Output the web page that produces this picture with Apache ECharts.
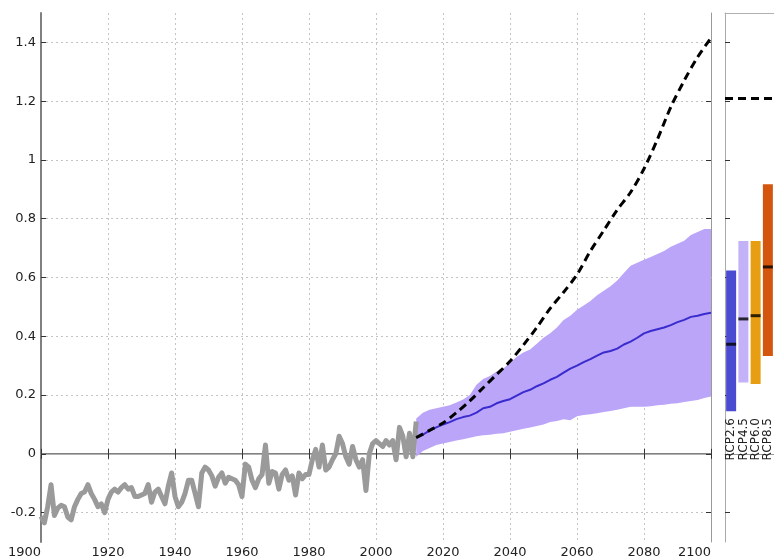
<!DOCTYPE html>
<html>
<head>
<meta charset="utf-8">
<script src="https://cdn.jsdelivr.net/npm/echarts@6/dist/echarts.min.js"></script>
<style>
  html, body { margin: 0; padding: 0; background: #fff; }
  #chart { width: 774px; height: 560px; }
</style>
</head>
<body>
<div id="chart"></div>
<script>
// Observed record, 1900-2012 (one value per year)
var obsStartYear = 1900;
var obsValues = [
  -0.213, -0.235, -0.18, -0.105, -0.21, -0.185, -0.175, -0.18, -0.215, -0.225,
  -0.18, -0.155, -0.135, -0.13, -0.105, -0.135, -0.155, -0.18, -0.17, -0.2,
  -0.155, -0.13, -0.12, -0.13, -0.115, -0.105, -0.12, -0.115, -0.145, -0.145,
  -0.14, -0.135, -0.105, -0.165, -0.13, -0.12, -0.145, -0.17, -0.11, -0.065,
  -0.145, -0.18, -0.165, -0.135, -0.09, -0.09, -0.135, -0.18, -0.065, -0.045,
  -0.055, -0.075, -0.11, -0.08, -0.065, -0.1, -0.08, -0.085, -0.09, -0.105,
  -0.145, -0.035, -0.045, -0.09, -0.115, -0.085, -0.07, 0.03, -0.1, -0.06,
  -0.065, -0.12, -0.07, -0.055, -0.09, -0.075, -0.14, -0.065, -0.085, -0.07,
  -0.07, -0.02, 0.015, -0.045, 0.03, -0.055, -0.045, -0.02, 0.0, 0.06,
  0.035, -0.01, -0.035, 0.025, -0.02, -0.045, -0.02, -0.125, 0.0, 0.035,
  0.045, 0.035, 0.025, 0.045, 0.03, 0.045, -0.02, 0.09, 0.06, -0.01,
  0.07, -0.01, 0.11
];

// Projection ensemble, 2012-2100 every 2 years
var projYears = [
  2012, 2014, 2016, 2018, 2020, 2022, 2024, 2026, 2028, 2030,
  2032, 2034, 2036, 2038, 2040, 2042, 2044, 2046, 2048, 2050,
  2052, 2054, 2056, 2058, 2060, 2062, 2064, 2066, 2068, 2070,
  2072, 2074, 2076, 2078, 2080, 2082, 2084, 2086, 2088, 2090,
  2092, 2094, 2096, 2098, 2100
];
var projLower = [
  -0.01, 0.01, 0.02, 0.03, 0.035, 0.04, 0.045, 0.05, 0.055, 0.06,
  0.063, 0.065, 0.068, 0.07, 0.075, 0.08, 0.085, 0.09, 0.095, 0.1,
  0.108, 0.112, 0.118, 0.114, 0.128, 0.132, 0.135, 0.138, 0.142, 0.146,
  0.15, 0.155, 0.16, 0.16, 0.16, 0.162, 0.165, 0.167, 0.17, 0.172,
  0.176, 0.18, 0.183, 0.19, 0.195
];
var projUpper = [
  0.12, 0.14, 0.15, 0.155, 0.16, 0.165, 0.175, 0.185, 0.2, 0.235,
  0.255, 0.265, 0.28, 0.29, 0.31, 0.33, 0.345, 0.355, 0.375, 0.395,
  0.41, 0.43, 0.455, 0.47, 0.49, 0.505, 0.52, 0.54, 0.555, 0.57,
  0.59, 0.615, 0.64, 0.65, 0.66, 0.67, 0.68, 0.69, 0.705, 0.715,
  0.725, 0.745, 0.755, 0.765, 0.765
];
var projMedian = [
  0.055, 0.065, 0.08, 0.09, 0.1, 0.108, 0.118, 0.125, 0.13, 0.14,
  0.155, 0.16, 0.172, 0.18, 0.186, 0.198, 0.21, 0.218, 0.23, 0.24,
  0.252, 0.262, 0.276, 0.29, 0.3, 0.312, 0.322, 0.334, 0.345, 0.35,
  0.358, 0.372, 0.382, 0.395, 0.41, 0.418, 0.424, 0.43, 0.438, 0.448,
  0.456, 0.466, 0.47, 0.476, 0.48
];

// Upper-end scenario curve, every 4 years
var highYears = [
  2012, 2016, 2020, 2024, 2028, 2032, 2036, 2040, 2044, 2048, 2052, 2056,
  2060, 2064, 2068, 2072, 2076, 2080, 2084, 2088, 2092, 2096, 2100
];
var highValues = [
  0.055, 0.08, 0.105, 0.14, 0.18, 0.225, 0.27, 0.315, 0.37, 0.43, 0.495, 0.55,
  0.61, 0.69, 0.76, 0.83, 0.89, 0.97, 1.07, 1.18, 1.27, 1.35, 1.415
];
var highLevel2100 = 1.21;

// Scenario ranges at 2100
var rcpNames = ['RCP2.6', 'RCP4.5', 'RCP6.0', 'RCP8.5'];
var rcpLow = [0.145, 0.243, 0.238, 0.333];
var rcpHigh = [0.624, 0.724, 0.724, 0.917];
var rcpMid = [0.373, 0.459, 0.47, 0.636];
var rcpColors = ['#4b4bd2', '#c3b2f8', '#e89e12', '#d4560e'];

// Axis ticks
var xTickInterval = 20;
var yTickValues = [-0.2, 0, 0.2, 0.4, 0.6, 0.8, 1, 1.2, 1.4];
var yMin = -0.3, yMax = 1.5;

var obsData = obsValues.map(function (v, i) { return [obsStartYear + i, v]; });
var medianData = projYears.map(function (y, i) { return [y, projMedian[i]]; });
var highData = highYears.map(function (y, i) { return [y, highValues[i]]; });

var FONT = 'DejaVu Sans';
var gridLine = { show: true, lineStyle: { color: '#c4c4c4', type: [2, 3], width: 1 } };
var innerTick = function (vals) {
  var t = { show: true, inside: true, length: 5, lineStyle: { color: '#333', width: 1 } };
  if (vals) t.customValues = vals;
  return t;
};

// Ensemble spread drawn as one polygon: upper edge forward, lower edge back
function renderSpread(params, api) {
  var pts = [];
  for (var i = 0; i < projYears.length; i++) {
    pts.push(api.coord([projYears[i], projUpper[i]]));
  }
  for (var j = projYears.length - 1; j >= 0; j--) {
    pts.push(api.coord([projYears[j], projLower[j]]));
  }
  return {
    type: 'polygon',
    shape: { points: pts },
    style: { fill: '#bba5f8', stroke: null }
  };
}

var chart = echarts.init(document.getElementById('chart'), null, { renderer: 'canvas' });
chart.setOption({
  animation: false,
  backgroundColor: '#ffffff',
  grid: [
    { left: 41, top: 13, width: 670, height: 529 },
    { left: 725, top: 13, right: 0, height: 529 }
  ],
  xAxis: [
    {
      type: 'value', gridIndex: 0, min: 1900, max: 2100, interval: xTickInterval,
      position: 'bottom',
      axisLine: { show: true, lineStyle: { color: '#808080', width: 2 } },
      axisTick: innerTick(),
      axisLabel: {
        color: '#222', fontFamily: FONT, fontSize: 13, margin: 4,
        alignMinLabel: 'right', alignMaxLabel: 'right',
        formatter: function (v) { return String(v); }
      },
      splitLine: gridLine
    },
    {
      type: 'value', gridIndex: 0, min: 1900, max: 2100, interval: xTickInterval,
      position: 'top',
      axisLine: { show: true, lineStyle: { color: '#b0b0b0', width: 1 } },
      axisTick: innerTick(),
      axisLabel: { show: false },
      splitLine: { show: false }
    },
    {
      type: 'category', gridIndex: 1, data: rcpNames,
      position: 'bottom',
      axisLine: { show: true, lineStyle: { color: '#999', width: 1 } },
      axisTick: { show: false },
      axisLabel: {
        rotate: 90, margin: -124, interval: 0,
        color: '#222', fontFamily: FONT, fontSize: 12
      },
      splitLine: { show: false }
    },
    {
      type: 'category', gridIndex: 1, data: rcpNames,
      position: 'top',
      axisLine: { show: true, lineStyle: { color: '#b0b0b0', width: 1 } },
      axisTick: { show: false },
      axisLabel: { show: false }
    }
  ],
  yAxis: [
    {
      type: 'value', gridIndex: 0, min: yMin, max: yMax, position: 'left',
      axisLine: { show: true, lineStyle: { color: '#808080', width: 2 } },
      axisTick: innerTick(yTickValues),
      axisLabel: { customValues: yTickValues, color: '#222', fontFamily: FONT, fontSize: 13, margin: 5 },
      splitLine: gridLine
    },
    {
      type: 'value', gridIndex: 0, min: yMin, max: yMax, position: 'right',
      axisLine: { show: true, lineStyle: { color: '#999', width: 1 } },
      axisTick: innerTick(yTickValues),
      axisLabel: { show: false },
      splitLine: { show: false }
    },
    {
      type: 'value', gridIndex: 1, min: yMin, max: yMax, position: 'left',
      axisLine: { show: true, lineStyle: { color: '#aaa', width: 1 } },
      axisTick: innerTick(yTickValues),
      axisLabel: { show: false },
      splitLine: { show: false }
    }
  ],
  series: [
    {
      name: 'spread', type: 'custom', xAxisIndex: 0, yAxisIndex: 0,
      data: [[projYears[0], projLower[0]]],
      renderItem: renderSpread, silent: true, z: 2
    },
    {
      name: 'observed', type: 'line', xAxisIndex: 0, yAxisIndex: 0,
      data: obsData, symbol: 'none',
      lineStyle: { color: '#9a9a9a', width: 5, join: 'round' }, z: 3
    },
    {
      name: 'median', type: 'line', xAxisIndex: 0, yAxisIndex: 0,
      data: medianData, symbol: 'none',
      lineStyle: { color: '#3a2bcf', width: 2 }, z: 4
    },
    {
      name: 'high', type: 'line', xAxisIndex: 0, yAxisIndex: 0,
      data: highData, symbol: 'none', smooth: 0.3,
      lineStyle: { color: '#000', width: 3, type: [8, 5] }, z: 5
    },
    {
      name: 'rcpBase', type: 'bar', xAxisIndex: 2, yAxisIndex: 2,
      data: rcpLow, stack: 'rcp', barWidth: 10,
      itemStyle: { color: 'transparent' }, silent: true
    },
    {
      name: 'rcpRange', type: 'bar', xAxisIndex: 2, yAxisIndex: 2,
      data: rcpHigh.map(function (h, i) {
        return { value: +(h - rcpLow[i]).toFixed(4), itemStyle: { color: rcpColors[i] } };
      }),
      stack: 'rcp', barWidth: 10,
      markLine: {
        silent: true, symbol: 'none', label: { show: false },
        lineStyle: { color: '#000', width: 3, type: [8, 5] },
        data: [{ yAxis: highLevel2100 }]
      }
    },
    {
      name: 'rcpMid', type: 'scatter', xAxisIndex: 2, yAxisIndex: 2,
      data: rcpMid.map(function (m, i) { return [i, m]; }),
      symbol: 'rect', symbolSize: [10, 3],
      itemStyle: { color: '#000' }, z: 6
    }
  ]
});
</script>
</body>
</html>
